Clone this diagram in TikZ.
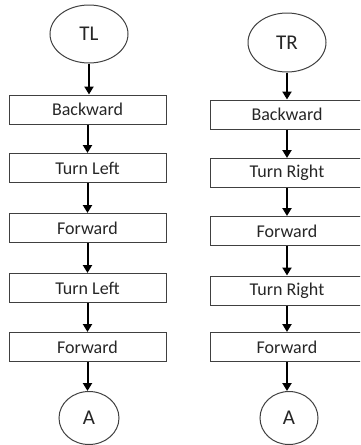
\documentclass[tikz,border=0pt]{standalone}
\usepackage{fontspec}
\setmainfont{Carlito}
\usetikzlibrary{arrows.meta,shapes.geometric}
\begin{document}
\begin{tikzpicture}[x=1pt,y=-1pt,
  stepbox/.style={draw=black!75, line width=1pt, minimum height=29pt, inner sep=0pt,
    font=\fontsize{18}{21}\selectfont, text=black!85},
  lbox/.style={stepbox, minimum width=157pt},
  rbox/.style={stepbox, minimum width=154pt},
  term/.style={ellipse, draw=black!75, line width=1pt, inner sep=0pt,
    font=\fontsize{21}{24}\selectfont, text=black!85},
  arr/.style={line width=2pt, -{Triangle[width=9pt,length=8pt]}}]
\useasboundingbox (0,0) rectangle (360,445);
\clip (0,0) rectangle (360,445);
% left column
\node[term, minimum width=78pt, minimum height=58pt] (tl) at (89,34) {TL};
\node[lbox] (l1) at (87.5,109.5) {Backward};
\node[lbox] (l2) at (87.5,168) {Turn Left};
\node[lbox] (l3) at (87.5,228) {Forward};
\node[lbox] (l4) at (87.5,288) {Turn Left};
\node[lbox] (l5) at (87.5,347) {Forward};
\node[term, minimum width=60pt, minimum height=53pt] (la) at (89,418) {A};
% right column
\node[term, minimum width=78pt, minimum height=59pt] (tr) at (287,42.5) {TR};
\node[rbox] (r1) at (287,114.5) {Backward};
\node[rbox] (r2) at (287,173) {Turn Right};
\node[rbox] (r3) at (287,231) {Forward};
\node[rbox] (r4) at (287,290.5) {Turn Right};
\node[rbox] (r5) at (287,347) {Forward};
\node[term, minimum width=58pt, minimum height=53pt] (ra) at (289,418) {A};
% arrows
\draw[arr] (tl) -- (tl.south |- l1.north);
\draw[arr] (l1) -- (l2);
\draw[arr] (l2) -- (l3);
\draw[arr] (l3) -- (l4);
\draw[arr] (l4) -- (l5);
\draw[arr] (l5.south) -- (l5.south |- la.north);
\draw[arr] (tr) -- (r1);
\draw[arr] (r1) -- (r2);
\draw[arr] (r2) -- (r3);
\draw[arr] (r3) -- (r4);
\draw[arr] (r4) -- (r5);
\draw[arr] (r5.south) -- (r5.south |- ra.north);
\end{tikzpicture}
\end{document}
